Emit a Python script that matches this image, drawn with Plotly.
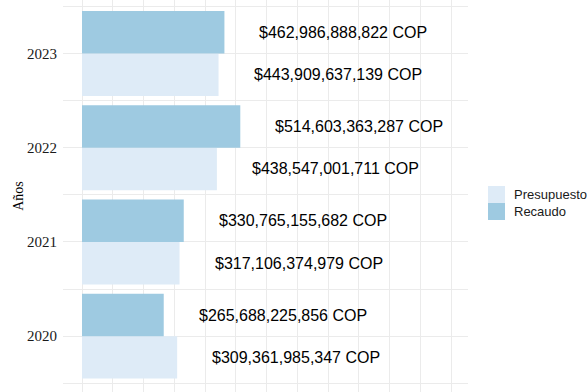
import plotly.graph_objects as go

# Annual figures (COP)
years = [2020, 2021, 2022, 2023]
presupuesto = [309361985347, 317106374979, 438547001711, 443909637139]
recaudo = [265688225856, 330765155682, 514603363287, 462986888822]

series_names = ["Presupuesto", "Recaudo"]
series_colors = ["#deebf7", "#9ecae1"]

GRID = "#ebebeb"
BARGAP = 0.1
SANS = "Liberation Sans, Arial, sans-serif"
SERIF = "Liberation Serif, Times New Roman, serif"

W, H = 587, 392
M_L, M_R = 63, 119
PLOT_W = W - M_L - M_R

fig = go.Figure()
for name, vals, color in zip(series_names, [presupuesto, recaudo], series_colors):
    fig.add_trace(go.Bar(
        x=vals, y=years, orientation="h", name=name,
        marker=dict(color=color, line=dict(width=0)),
        hoverinfo="x+y+name", showlegend=False,
    ))

# value labels to the right of each bar, aligned with its slot in the group
slot = (1 - BARGAP) / len(series_names)
for i, vals in enumerate([presupuesto, recaudo]):
    offset = -(1 - BARGAP) / 2 + slot * (i + 0.5)
    for yr, v in zip(years, vals):
        fig.add_annotation(
            x=v, y=yr + offset, xref="x", yref="y",
            text=f"${v:,} COP", showarrow=False,
            xanchor="left", yanchor="middle", xshift=33,
            font=dict(family=SANS, size=16, color="#000000"),
        )

# legend: stacked square keys with labels, placed in the right margin
KEY = 17          # key size in px
key_left = 488    # px from left edge of the figure
key_top = 186     # px from top edge of the figure
for i, (name, color) in enumerate(zip(series_names, series_colors)):
    top = key_top + i * KEY
    x0 = (key_left - M_L) / PLOT_W
    x1 = (key_left + KEY - M_L) / PLOT_W
    y0 = 1 - (top + KEY) / H
    y1 = 1 - top / H
    fig.add_shape(type="rect", xref="paper", yref="paper",
                  x0=x0, x1=x1, y0=y0, y1=y1,
                  fillcolor=color, line=dict(width=0), layer="above")
    fig.add_annotation(
        x=x1, y=(y0 + y1) / 2, xref="paper", yref="paper",
        text=name, showarrow=False, xanchor="left", yanchor="middle", xshift=7,
        font=dict(family=SANS, size=13, color="#1a1a1a"),
    )

fig.update_layout(
    width=W, height=H,
    margin=dict(l=M_L, r=M_R, t=0, b=0),
    barmode="group", bargap=BARGAP, bargroupgap=0,
    plot_bgcolor="white", paper_bgcolor="white",
    showlegend=False,
    xaxis=dict(
        range=[-6.18e10, 1.2549e12], dtick=1e11, tick0=0,
        showgrid=True, gridcolor=GRID, gridwidth=1,
        zeroline=False, showticklabels=False, ticks="", showline=False,
    ),
    yaxis=dict(
        range=[2019.408, 2023.568], tickvals=years, ticktext=[str(y) for y in years],
        showgrid=True, gridcolor=GRID, gridwidth=1,
        minor=dict(dtick=0.5, tick0=2019.5, showgrid=True, gridcolor=GRID, gridwidth=1, ticks=""),
        zeroline=False, ticks="", showline=False, ticklabelstandoff=5,
        tickfont=dict(family=SERIF, size=15, color="#1a1a1a"),
        title=dict(text="Años", standoff=0,
                   font=dict(family=SERIF, size=14, color="#000000")),
        automargin=False,
    ),
)

fig.write_html("out.html")
